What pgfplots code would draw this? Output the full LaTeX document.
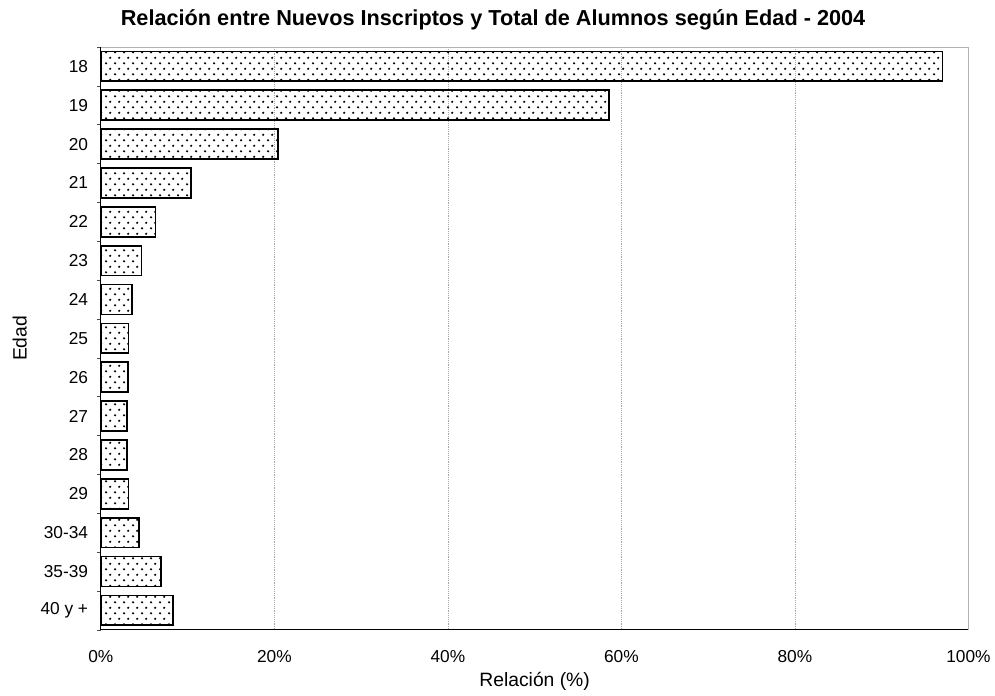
\documentclass[border=0pt]{standalone}
\usepackage{pgfplots}
\pgfplotsset{compat=1.18}
\usepackage{fontspec}
\setmainfont{Liberation Sans}
\usetikzlibrary{patterns.meta}
\pgfdeclarepattern{
  name=xldots,
  type=uncolored,
  bottom left={\pgfpoint{0pt}{0pt}},
  top right={\pgfpoint{6.5pt}{8.6pt}},
  tile size={\pgfpoint{6.5pt}{8.6pt}},
  code={
    \pgfpathcircle{\pgfpoint{1.6pt}{2.15pt}}{0.95pt}
    \pgfpathcircle{\pgfpoint{4.85pt}{6.45pt}}{0.95pt}
    \pgfusepath{fill}
  }
}
\pgfplotstableread{
y val
0 97.0
1 58.6
2 20.4
3 10.4
4 6.3
5 4.7
6 3.6
7 3.2
8 3.1
9 3.0
10 3.0
11 3.2
12 4.4
13 6.9
14 8.3
}\datatable
\begin{document}
\begin{tikzpicture}
\begin{axis}[
  name=ax,
  scale only axis,
  width=652pt, height=438pt,
  xbar, bar width=22.5pt,
  xmin=0, xmax=100,
  ymin=-0.5, ymax=14.5,
  y dir=reverse,
  xtick={0,20,...,100},
  xticklabel={\pgfmathprintnumber{\tick}\%},
  ytick={0,...,14},
  yticklabels={18,19,20,21,22,23,24,25,26,27,28,29,30-34,35-39,40 y +},
  minor ytick={-0.5,0.5,...,14.5},
  ytick pos=left, xtick pos=bottom,
  major tick length=0pt,
  minor tick length=3pt,
  minor tick style={black!70, line width=0.4pt},
  tick align=outside,
  xmajorgrids,
  major grid style={gray!70, densely dotted, line width=0.5pt},
  axis line style={gray!60, line width=0.5pt},
  tick label style={font=\fontsize{13}{15}\selectfont},
  /pgf/number format/assume math mode=true,
  yticklabel style={xshift=-6pt},
  xticklabel style={yshift=-12pt},
  clip=false,
]
\addplot[draw=black, line width=1.3pt, pattern={xldots}, pattern color=black]
  table[x=val, y=y] {\datatable};
\draw[black, line width=0.7pt] (rel axis cs:0,0) -- (rel axis cs:0,1);
\draw[black, line width=0.9pt] (rel axis cs:0,0) -- (rel axis cs:1,0);
\end{axis}
\path ([xshift=-75.75pt,yshift=-49.5pt]ax.south west) rectangle ([xshift=18.75pt,yshift=35.25pt]ax.north east);
\node[font=\fontsize{16.3}{18}\selectfont\bfseries] at ([xshift=294.75pt,yshift=20.5pt]ax.north west) {Relación entre Nuevos Inscriptos y Total de Alumnos según Edad - 2004};
\node[font=\fontsize{14.5}{17}\selectfont, rotate=90] at ([xshift=-61pt]ax.west) {Edad};
\node[font=\fontsize{14.5}{17}\selectfont] at ([yshift=-39pt]ax.south) {Relación (\%)};
\end{tikzpicture}
\end{document}
